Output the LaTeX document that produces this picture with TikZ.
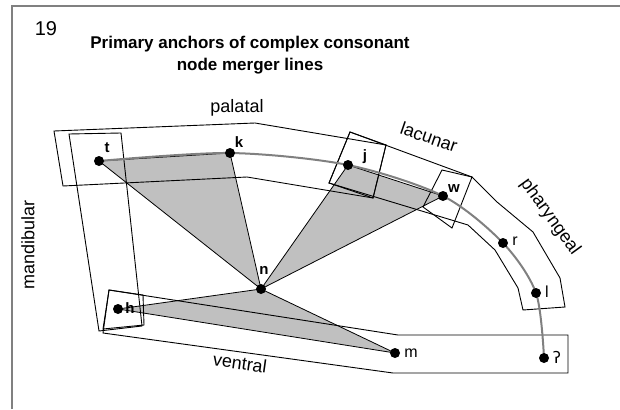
\documentclass[tikz,border=0pt]{standalone}
\usepackage{fontspec}
\setmainfont{Liberation Sans}
\newfontfamily\ipafont{DejaVu Sans}
\usetikzlibrary{calc,positioning}

\definecolor{grigio}{RGB}{192,192,192}
\definecolor{grigioarco}{RGB}{128,128,128}

\begin{document}
\begin{tikzpicture}[x=1pt, y=-1pt,
    punto/.style={circle, fill=black, inner sep=0pt, minimum size=2\myradius},
    etichetta/.style={inner sep=0pt, font=\bfseries\fontsize{15}{15}\selectfont},
    etichettasottile/.style={inner sep=0pt, font=\fontsize{16}{16}\selectfont},
    regione/.style={inner sep=0pt, font=\fontsize{18}{18}\selectfont},
    banda/.style={draw=black, line width=0.9pt},
    ombra/.style={fill=grigio, draw=black, line width=0.8pt}]
  \newlength{\myradius}
  \setlength{\myradius}{5pt}
  \useasboundingbox (0,0) rectangle (620,409);

  % cornice
  \draw[grigioarco, line width=1.5pt] (12,409) -- (12,6) -- (620,6);

  % titolo
  \node (Numero) at (46,29) {\fontsize{20}{20}\selectfont 19};
  \node[align=center, font=\bfseries\fontsize{17}{22}\selectfont] (Titolo) at (250,55)
    {Primary anchors of complex consonant\\node merger lines};

  % posizioni dei punti
  \coordinate (t) at (99,161);
  \coordinate (k) at (230,153);
  \coordinate (j) at (348,165);
  \coordinate (w) at (443,196);
  \coordinate (r) at (503,243);
  \coordinate (l) at (536,293);
  \coordinate (q) at (544,358);
  \coordinate (m) at (395,353);
  \coordinate (n) at (261,289);
  \coordinate (h) at (118,309);

  % triangoli
  \filldraw[ombra] (t) -- (k) -- (n) -- cycle;
  \filldraw[ombra] (j) -- (w) -- (n) -- cycle;
  \filldraw[ombra] (h) -- (n) -- (m) -- cycle;

  % bande
  \draw[banda] (54,131) -- (255,123) -- (386,145) -- (373,198) -- (247,177) -- (63,186) -- cycle;
  \draw[banda] (350,132) -- (472,177) -- (497,202) -- (533,232) -- (560,278) -- (565,307)
    -- (523,310) -- (518,288) -- (495,250) -- (468,225) -- (329,183) -- cycle;
  \draw[banda] (69,134) -- (121,133) -- (142,326) -- (99,331) -- cycle;
  \draw[banda] (109,290) -- (398,335) -- (568,335) -- (568,373) -- (393,373) -- (103,333) -- cycle;
  % riquadri
  \draw[banda] (350,132) -- (386,145) -- (373,198) -- (329,183) -- cycle;
  \draw[banda] (442,170) -- (472,177) -- (452,228) -- (423,207) -- cycle;
  \draw[banda] (109,290) -- (143,295) -- (144,325) -- (103,329) -- cycle;

  % arco
  \draw[grigioarco, line width=2pt] plot[smooth] coordinates {(t) (k) (j) (w) (r) (l) (q)};

  % punti
  \node[punto] (T) at (t) {};
  \node[punto] (K) at (k) {};
  \node[punto] (J) at (j) {};
  \node[punto] (W) at (w) {};
  \node[punto] (R) at (r) {};
  \node[punto] (L) at (l) {};
  \node[punto] (Q) at (q) {};
  \node[punto] (M) at (m) {};
  \node[punto] (N) at (n) {};
  \node[punto] (H) at (h) {};

  \node[etichetta] (LabT) at (107,148) {t};
  \node[etichetta] (LabK) at (239,142) {k};
  \node[etichetta] (LabJ) at (365,157) {j};
  \node[etichetta] (LabW) at (454,189) {w};
  \node[etichetta] (LabN) at (264,270) {n};
  \node[etichetta] (LabH) at (130,308) {h};
  \node[etichettasottile] (LabR) at (515,241) {r};
  \node[etichettasottile] (LabL) at (547,292) {l};
  \node[etichettasottile] (LabM) at (411,353) {m};
  \node[etichettasottile] (LabQ) at (557,357) {\ipafont ʔ};

  % nomi delle regioni
  \node[regione] (Palatal) at (237,108) {palatal};
  \node[regione, rotate=-19] (Lacunar) at (429,137) {lacunar};
  \node[regione, rotate=-54] (Pharyngeal) at (550,217) {pharyngeal};
  \node[regione, rotate=90] (Mandibular) at (28,245) {mandibular};
  \node[regione, rotate=-8] (Ventral) at (240,363) {ventral};
\end{tikzpicture}
\end{document}
